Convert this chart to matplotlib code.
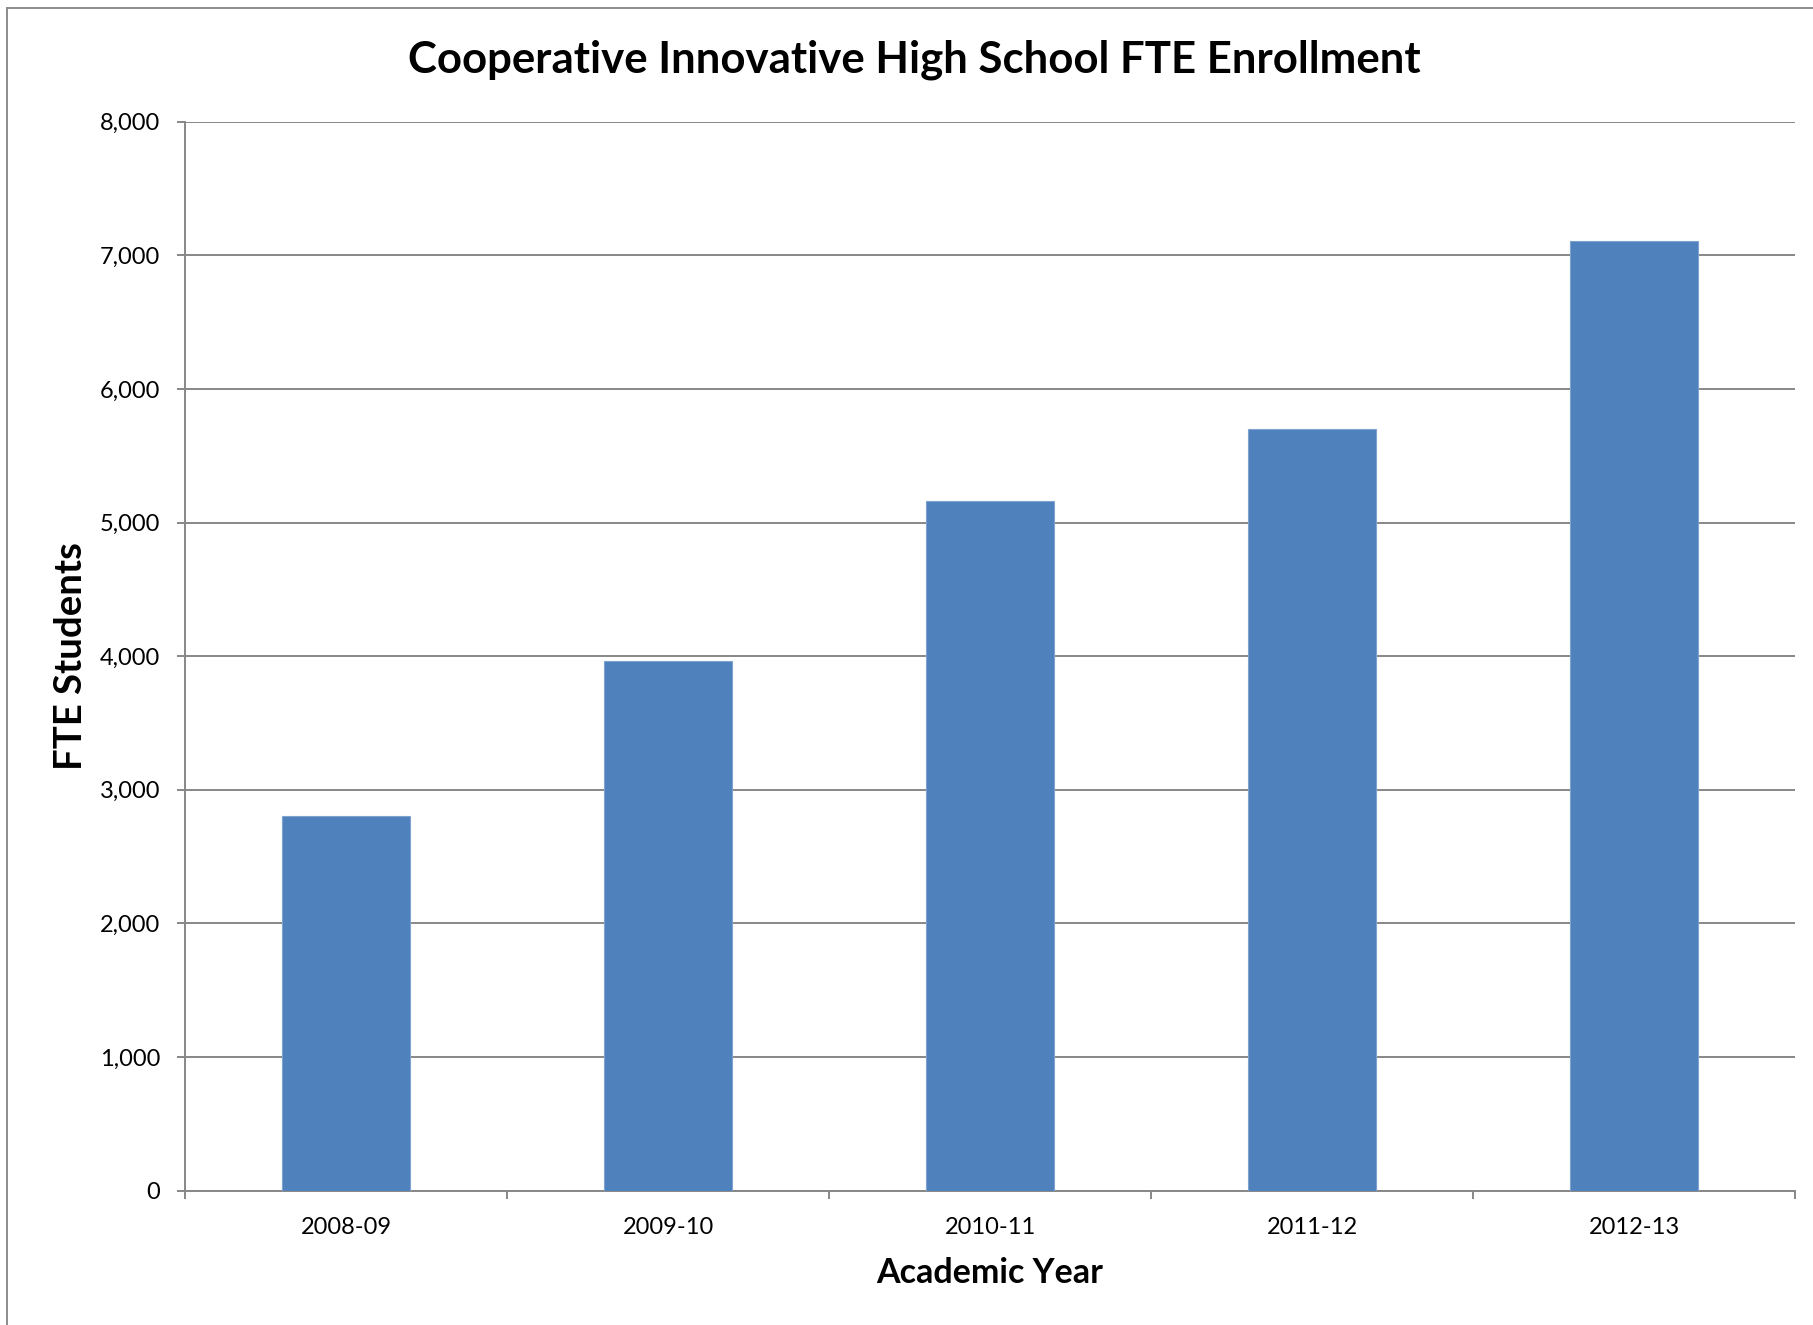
import numpy as np
import matplotlib
matplotlib.use("Agg")
import matplotlib.pyplot as plt
from matplotlib.lines import Line2D
from matplotlib.ticker import FuncFormatter

plt.rcParams['font.family'] = ['Lato', 'DejaVu Sans']

# data
years = ["2008-09", "2009-10", "2010-11", "2011-12", "2012-13"]
fte = [2800, 3960, 5160, 5700, 7110]
yticks = [0, 1000, 2000, 3000, 4000, 5000, 6000, 7000, 8000]

W, H = 1813, 1325
fig = plt.figure(figsize=(W / 100, H / 100), dpi=100)
ax = fig.add_axes([185 / W, 1 - 1190.5 / H, (1795 - 185) / W, (1190.5 - 121.7) / H])

x = np.arange(len(years))
ax.bar(x, fte, width=0.4, color="#4F81BD", edgecolor="#7EA3CF", linewidth=0.8, zorder=3)

ax.set_xlim(-0.5, len(years) - 0.5)
ax.set_ylim(0, 8000)
ax.set_yticks(yticks)
ax.yaxis.set_major_formatter(FuncFormatter(lambda v, p: f"{int(v):,}"))
ax.set_xticks(x)
ax.set_xticklabels(years)
ax.set_xticks(np.arange(len(years) + 1) - 0.5, minor=True)

ax.grid(axis="y", color="#878787", linewidth=1.4, zorder=0)
for s in ["top", "right"]:
    ax.spines[s].set_visible(False)
for s in ["left", "bottom"]:
    ax.spines[s].set_color("#878787")
    ax.spines[s].set_linewidth(1.4)

ax.tick_params(axis="y", length=6, width=1.4, color="#878787", pad=12, labelsize=17)
ax.tick_params(axis="x", which="major", length=0, pad=19, labelsize=17)
ax.tick_params(axis="x", which="minor", length=6, width=1.4, color="#878787")

ax.set_xlabel("Academic Year", fontsize=24.5, fontweight="bold", labelpad=14)
ax.set_ylabel("FTE Students", fontsize=27.5, fontweight="bold", labelpad=8)
fig.text(0.5045, 1 - 60 / H, "Cooperative Innovative High School FTE Enrollment",
         ha="center", va="center", fontsize=31.5, fontweight="bold")

# outer chart border (only top and left visible in the crop)
bx, by = 7 / W, 1 - 8 / H
fig.add_artist(Line2D([bx, bx], [0, by], transform=fig.transFigure, color="#8C8C8C", linewidth=1.4))
fig.add_artist(Line2D([bx, 1], [by, by], transform=fig.transFigure, color="#8C8C8C", linewidth=1.4))

fig.savefig("out.png", dpi=100)
